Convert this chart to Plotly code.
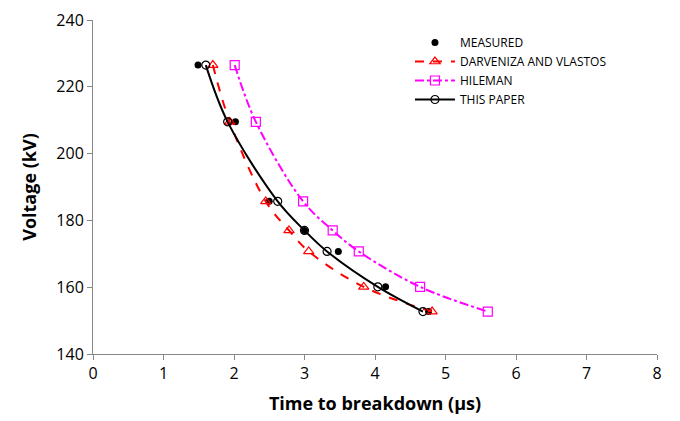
import plotly.graph_objects as go

voltage = [226.5, 209.5, 185.7, 177.0, 170.7, 160.1, 152.7]
t_measured = [1.49, 2.02, 2.50, 3.00, 3.48, 4.15, 4.76]
t_darveniza = [1.70, 1.94, 2.45, 2.78, 3.06, 3.84, 4.81]
t_hileman = [2.01, 2.31, 2.98, 3.40, 3.77, 4.64, 5.60]
t_paper = [1.60, 1.91, 2.62, 3.00, 3.32, 4.04, 4.68]

x_ticks = [0, 1, 2, 3, 4, 5, 6, 7, 8]
y_ticks = [140, 160, 180, 200, 220, 240]

fig = go.Figure()
fig.add_trace(go.Scatter(
    x=t_measured, y=voltage, mode="markers", name="MEASURED",
    marker=dict(symbol="circle", size=7, color="black")))
fig.add_trace(go.Scatter(
    x=t_darveniza, y=voltage, mode="lines+markers", name="DARVENIZA AND VLASTOS",
    line=dict(color="#ff0000", width=2, dash="dash", shape="spline"),
    marker=dict(symbol="triangle-up-open", size=9, color="#ff0000", line=dict(width=1.2))))
fig.add_trace(go.Scatter(
    x=t_hileman, y=voltage, mode="lines+markers", name="HILEMAN",
    line=dict(color="#ff00ff", width=2, dash="dashdot", shape="spline"),
    marker=dict(symbol="square-open", size=9, color="#ff00ff", line=dict(width=1.2))))
fig.add_trace(go.Scatter(
    x=t_paper, y=voltage, mode="lines+markers", name="THIS PAPER",
    line=dict(color="black", width=2, shape="spline"),
    marker=dict(symbol="circle-open", size=8, color="black", line=dict(width=1.2))))

fig.update_layout(
    width=680, height=421,
    margin=dict(l=93, r=23, t=20, b=67),
    paper_bgcolor="white", plot_bgcolor="white",
    font=dict(family="Open Sans", color="black"),
    showlegend=True,
    legend=dict(x=0.562, y=0.976, xanchor="left", yanchor="top",
                bgcolor="rgba(0,0,0,0)", font=dict(size=12, family="Open Sans"),
                tracegroupgap=0, itemwidth=40),
    xaxis=dict(range=[0, 8], tickvals=x_ticks, showgrid=False, zeroline=False,
               showline=True, linecolor="#888888", linewidth=1,
               ticks="outside", ticklen=5, tickcolor="#888888",
               tickfont=dict(size=16), automargin=False,
               title=dict(text="Time to breakdown (µs)", font=dict(size=18, family="Open Sans", weight="bold"), standoff=14)),
    yaxis=dict(range=[140, 240], tickvals=y_ticks, showgrid=False, zeroline=False,
               showline=True, linecolor="#888888", linewidth=1,
               ticks="outside", ticklen=5, tickcolor="#888888",
               tickfont=dict(size=16), automargin=False,
               title=dict(text="Voltage (kV)", font=dict(size=18, family="Open Sans", weight="bold"), standoff=15)),
)

fig.write_html("out.html", config={"displayModeBar": False},
               post_script="document.body.style.margin='0';")
